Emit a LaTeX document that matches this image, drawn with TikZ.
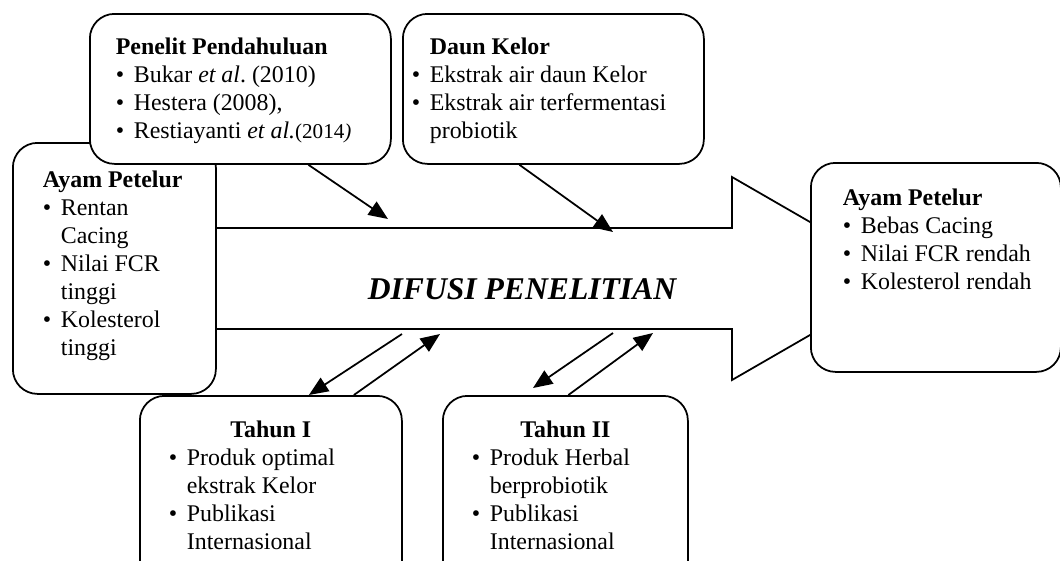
\documentclass[tikz,border=0pt]{standalone}
\usepackage{fontspec}
\setmainfont{Liberation Serif}
\usetikzlibrary{positioning,calc,arrows.meta}
\newlength{\bulw}\setlength{\bulw}{0.36cm}
\newcommand{\butir}[1]{\par\hangindent=\bulw\hangafter=1\noindent\makebox[\bulw][l]{\textbullet}#1}
\newcommand{\isi}[3]{\parbox[c][#1][t]{#2}{\raggedright\frenchspacing #3}}
\tikzset{kotak/.style={draw, fill=white, line width=1pt, rounded corners=14pt,
    anchor=north west, inner sep=0pt, font=\fontsize{13.6}{15.9}\selectfont},
  panah/.style={->, line width=1pt},
  >={Triangle[length=11pt,width=9pt]}}

\begin{document}
\begin{tikzpicture}[x=0.2mm, y=-0.2mm]
  \useasboundingbox (0,0) rectangle (1060,560);

  % panah besar
  \draw[line width=1pt] (200,228) -- (732,228) -- (732,177) -- (908,278.5)
    -- (732,380) -- (732,329) -- (200,329);
  \node (dif) at (522,289) {\fontsize{18}{20}\selectfont\bfseries\itshape DIFUSI PENELITIAN};

  % kotak
  \node[kotak, inner xsep=0.6cm, inner ysep=0.56cm] (ap1) at (12,142)
    {\isi{3.9cm}{2.86cm}{\textbf{Ayam Petelur}
      \butir{Rentan\newline Cacing}\butir{Nilai FCR\newline tinggi}\butir{Kolesterol\newline tinggi}}};
  \node[kotak, inner xsep=0.52cm, inner ysep=0.48cm] (pp) at (89,13)
    {\isi{2.04cm}{4.98cm}{\textbf{Penelit Pendahuluan}
      \butir{Bukar \textit{et al}. (2010)}\butir{Hestera (2008),}
      \butir{Restiayanti \textit{et al.}{\fontsize{12}{15.9}\selectfont(2014\textit{)}}}}};
  \node[kotak, inner xsep=0.18cm, inner ysep=0.48cm] (dk) at (402,13)
    {\isi{2.04cm}{5.66cm}{\hspace*{\bulw}\textbf{Daun Kelor}
      \butir{Ekstrak air daun Kelor}\butir{Ekstrak air terfermentasi\newline probiotik}}};
  \node[kotak, inner xsep=0.64cm, inner ysep=0.52cm] (ap2) at (810,162)
    {\isi{3.14cm}{3.72cm}{\textbf{Ayam Petelur}
      \butir{Bebas Cacing}\butir{\mbox{Nilai FCR rendah}}\butir{\mbox{Kolesterol rendah}}}};
  \node[kotak, inner xsep=0.58cm, inner ysep=0.5cm] (t1) at (139,395)
    {\isi{3.4cm}{4.08cm}{{\centering\textbf{Tahun I}\par}
      \butir{Produk optimal\newline ekstrak Kelor}\butir{Publikasi\newline Internasional}}};
  \node[kotak, inner xsep=0.58cm, inner ysep=0.5cm] (t2) at (442,395)
    {\isi{3.4cm}{3.74cm}{{\centering\textbf{Tahun II}\par}
      \butir{Produk Herbal\newline berprobiotik}\butir{Publikasi\newline Internasional}}};

  % titik ujung
  \coordinate (c1) at (388,219);
  \coordinate (c2) at (613,232);
  \coordinate (s1) at (402,334);
  \coordinate (s2) at (440,334);
  \coordinate (s3) at (613,333);
  \coordinate (e3) at (533,388);
  \coordinate (s4) at (653,333);

  % panah
  \draw[panah] ($(pp.south)+(68,0)$) -- (c1);
  \draw[panah] ($(dk.south)+(-34,0)$) -- (c2);
  \draw[panah] (s1) -- ($(t1.north)+(38,0)$);
  \draw[panah] ($(t1.north)+(83,0)$) -- (s2);
  \draw[panah] (s3) -- (e3);
  \draw[panah] ($(t2.north)+(3,0)$) -- (s4);
\end{tikzpicture}
\end{document}
